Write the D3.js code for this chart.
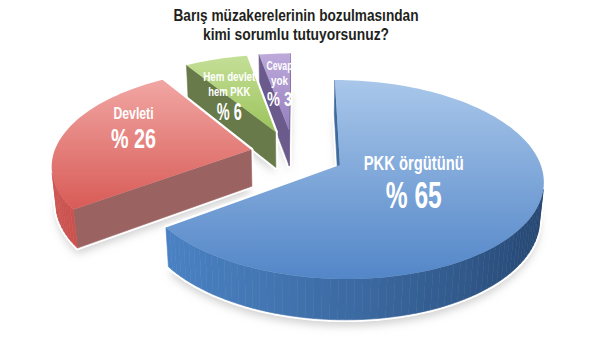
<!DOCTYPE html>
<html>
<head>
<meta charset="utf-8">
<script src="https://cdn.jsdelivr.net/npm/d3@7"></script>
<style>
  html, body { margin: 0; padding: 0; background: #ffffff; }
  svg { display: block; }
  text { font-family: "Liberation Sans", Arial, "DejaVu Sans", sans-serif; font-weight: bold; }
</style>
</head>
<body>
<svg id="chart" width="600" height="340"></svg>
<script>
// ---- data ----
const titleLines = ["Barış müzakerelerinin bozulmasından", "kimi sorumlu tutuyorsunuz?"];
const categories = ["PKK örgütünü", "Devleti", "Hem devlet hem PKK", "Cevap yok"];
const values = [65, 26, 6, 3];
const nameLines = [["PKK örgütünü"], ["Devleti"], ["Hem devlet", "hem PKK"], ["Cevap", "yok"]];
const valueLabels = values.map(v => "% " + v);

// ---- styling ----
const palette = [
  { topA: "#a9c7ea", topB: "#5386c8", sideLight: "#4c84c6", sideDark: "#22416a", cut: "#3f6a9e" },
  { topA: "#f1a6a3", topB: "#d85b56", sideLight: "#cc5450", sideDark: "#8f3532", cut: "#9b6262" },
  { topA: "#c4df97", topB: "#9cc35c", sideLight: "#7d9156", sideDark: "#55653a", cut: "#687a49" },
  { topA: "#bda9da", topB: "#9680c0", sideLight: "#7a68a0", sideDark: "#54466f", cut: "#6b5b8c" }
];
// how far each slice is pulled out from the centre (in pie radii)
const explodeBy = [0.26, 0.22, 0.26, 0.26];
// label anchor on the top face: angle offset from slice middle (deg), radius fraction;
// per line: font size, baseline offset from the anchor, condensed width
const labelLayout = [
  { da: 7,   r: 0.42, name: { size: 21, dy: [-19], w: [100] },          value: { size: 36, dy: 19, w: 56 } },
  { da: 4,   r: 0.64, name: { size: 17, dy: [-16], w: [40] },           value: { size: 28, dy: 13, w: 45 } },
  { da: -13, r: 0.46, name: { size: 13, dy: [-19, -4], w: [52, 42] },   value: { size: 23, dy: 20, w: 25 } },
  { da: -1,  r: 0.52, name: { size: 12.5, dy: [-18, -3], w: [26, 17] }, value: { size: 20, dy: 18, w: 25 } }
];
const titleLayout = { x: 296, y: 21, gap: 19, size: 16, w: [245, 186] };

const deg = Math.PI / 180;
const view = { D: 6, tilt: 29 * deg, F: 1205, ox: 300, oy: 165, tu: 0.033, tv: 0.118, h: 0.214 };
const cosT = Math.cos(view.tilt), sinT = Math.sin(view.tilt);
const cam = [view.tu, view.tv + view.D * cosT, view.D * sinT];
const lightDir = (() => { const l = [-0.97, 0.24]; const m = Math.hypot(l[0], l[1]); return [l[0] / m, l[1] / m]; })();

function depth(p) { return view.D - (p[1] - view.tv) * cosT - p[2] * sinT; }
function project(p) {
  const d = depth(p);
  return [view.ox + view.F * (p[0] - view.tu) / d,
          view.oy - view.F * (p[2] * cosT - (p[1] - view.tv) * sinT) / d];
}
const radius = d3.scaleLinear().domain([0, 1]).range([0, 1]);

const svg = d3.select("#chart");
const defs = svg.append("defs");

const blur = defs.append("filter").attr("id", "shadowBlur")
  .attr("x", "-20%").attr("y", "-20%").attr("width", "140%").attr("height", "140%");
blur.append("feGaussianBlur").attr("stdDeviation", 4);

palette.forEach((c, i) => {
  const g = defs.append("linearGradient").attr("id", "top" + i)
    .attr("x1", 0).attr("y1", 0).attr("x2", 0).attr("y2", 1);
  g.append("stop").attr("offset", "0%").attr("stop-color", c.topA);
  g.append("stop").attr("offset", "100%").attr("stop-color", c.topB);
});

// ---- title ----
const title = svg.append("text")
  .attr("text-anchor", "middle")
  .attr("font-size", titleLayout.size)
  .attr("fill", "#231f20");
title.selectAll("tspan").data(titleLines).join("tspan")
  .attr("x", titleLayout.x).attr("y", (d, i) => titleLayout.y + i * titleLayout.gap)
  .attr("textLength", (d, i) => titleLayout.w[i])
  .attr("lengthAdjust", "spacingAndGlyphs")
  .text(d => d);

// ---- slices ----
const arcs = d3.pie().sort(null).value(d => d)(values);

const slices = arcs.map((a, i) => {
  const mid = (a.startAngle + a.endAngle) / 2;
  const ax = explodeBy[i] * Math.sin(mid), ay = -explodeBy[i] * Math.cos(mid);
  const pt = (t, r, z) => [ax + radius(r) * Math.sin(t), ay - radius(r) * Math.cos(t), z];
  const n = Math.max(6, Math.ceil((a.endAngle - a.startAngle) / (2 * deg)));
  const ts = d3.range(n + 1).map(k => a.startAngle + (a.endAngle - a.startAngle) * k / n);
  const h = view.h;
  const visible = (nrm, p) => nrm[0] * (cam[0] - p[0]) + nrm[1] * (cam[1] - p[1]) > 0;
  const col = palette[i];
  const shade = d3.interpolateRgb(col.sideDark, col.sideLight);

  const faces = [];
  // curved outer wall
  for (let k = 0; k < n; k++) {
    const t0 = ts[k], t1 = ts[k + 1], tm = (t0 + t1) / 2;
    const nrm = [Math.sin(tm), -Math.cos(tm)];
    const pm = pt(tm, 1, 0);
    if (!visible(nrm, pm)) continue;
    const lit = (nrm[0] * lightDir[0] + nrm[1] * lightDir[1] + 1) / 2;
    faces.push({ pts: [pt(t0, 1, 0), pt(t1, 1, 0), pt(t1, 1, -h), pt(t0, 1, -h)],
                 fill: shade(lit), depth: depth(pm) });
  }
  // the two radial cut faces
  [[a.startAngle, a.startAngle - 90 * deg], [a.endAngle, a.endAngle + 90 * deg]].forEach(([t, nt]) => {
    const nrm = [Math.sin(nt), -Math.cos(nt)];
    const pm = pt(t, 0.5, 0);
    if (!visible(nrm, pm)) return;
    faces.push({ pts: [pt(t, 0, 0), pt(t, 1, 0), pt(t, 1, -h), pt(t, 0, -h)],
                 fill: col.cut, depth: depth(pm) + 0.001 });
  });
  faces.sort((p, q) => q.depth - p.depth);

  const top = [pt(0, 0, 0)].concat(ts.map(t => pt(t, 1, 0)));
  const bottom = [pt(0, 0, -h)].concat(ts.map(t => pt(t, 1, -h)));
  const lm = mid + labelLayout[i].da * deg;
  return { i, faces, top, bottom, depth: depth(pt(mid, 0.5, 0)),
           anchor: project(pt(lm, labelLayout[i].r, 0)) };
});

const line = pts => "M" + pts.map(p => project(p).map(v => v.toFixed(2)).join(",")).join("L") + "Z";

// soft ground shadow
svg.append("g").attr("filter", "url(#shadowBlur)").attr("transform", "translate(0,6)")
  .selectAll("path").data(slices).join("path")
  .attr("d", s => line(s.bottom))
  .attr("fill", "#a9a9a9").attr("opacity", 0.55);

const order = slices.slice().sort((p, q) => q.depth - p.depth);
const pieG = svg.append("g");
order.forEach(s => {
  const g = pieG.append("g");
  // white rim around the slice silhouette
  const all = s.faces.map(f => f.pts).concat([s.top]);
  g.selectAll("path.rim").data(all).join("path").attr("class", "rim")
    .attr("d", line).attr("fill", "#fff").attr("stroke", "#fff")
    .attr("stroke-width", 4.5).attr("stroke-linejoin", "round");
  g.selectAll("path.face").data(s.faces).join("path").attr("class", "face")
    .attr("d", f => line(f.pts)).attr("fill", f => f.fill)
    .attr("stroke", f => f.fill).attr("stroke-width", 0.6).attr("stroke-linejoin", "round");
  g.append("path").attr("d", line(s.top)).attr("fill", "url(#top" + s.i + ")");
});

// ---- labels: one text per slice, a tspan per line ----
const labelG = svg.append("g").attr("fill", "#ffffff");
slices.forEach(s => {
  const L = labelLayout[s.i];
  const [x, y] = s.anchor;
  const rows = nameLines[s.i].map((t, k) => ({ t, size: L.name.size, dy: L.name.dy[k], w: L.name.w[k] }))
    .concat([{ t: valueLabels[s.i], size: L.value.size, dy: L.value.dy, w: L.value.w }]);
  labelG.append("text").attr("text-anchor", "middle")
    .selectAll("tspan").data(rows).join("tspan")
    .attr("x", x).attr("y", r => y + r.dy)
    .attr("font-size", r => r.size)
    .attr("textLength", r => r.w).attr("lengthAdjust", "spacingAndGlyphs")
    .text(r => r.t);
});
</script>
</body>
</html>
